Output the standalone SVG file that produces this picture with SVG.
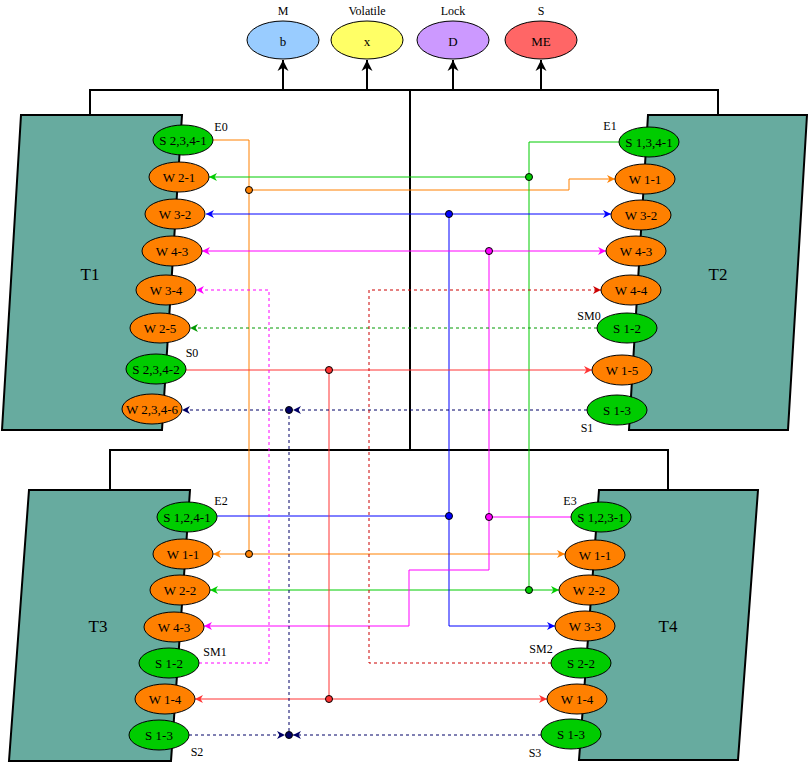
<svg xmlns="http://www.w3.org/2000/svg" width="808" height="764" viewBox="0 0 808 764">
<style>
text{font-family:"Liberation Serif","Times New Roman",serif;fill:#000;}
.nl{font-size:13px;text-anchor:middle;dominant-baseline:central;}
.tl{font-size:17px;text-anchor:middle;dominant-baseline:central;}
.lb{font-size:12px;text-anchor:middle;dominant-baseline:central;}
.t{fill:#67AB9F;stroke:#000;stroke-width:2;}
.s{fill:#00CC00;stroke:#000;stroke-width:1;}
.w{fill:#FF8000;stroke:#000;stroke-width:1;}
.br{fill:none;stroke:#000;stroke-width:2;}
.c{fill:none;stroke-width:1;}
.d{stroke-dasharray:3 3;}
.dot{stroke:#000;stroke-width:1;}
</style>
<defs>
<marker id="ak" viewBox="0 0 10 10" refX="10" refY="5" markerWidth="11" markerHeight="12" markerUnits="userSpaceOnUse" orient="auto"><path d="M0,0 L10,5 L0,10 L3,5 z" fill="#000"/></marker>
<marker id="aor" viewBox="0 0 10 10" refX="10" refY="5" markerWidth="8" markerHeight="8" markerUnits="userSpaceOnUse" orient="auto"><path d="M0,0 L10,5 L0,10 L3,5 z" fill="#FF8000"/></marker>
<marker id="agr" viewBox="0 0 10 10" refX="10" refY="5" markerWidth="8" markerHeight="8" markerUnits="userSpaceOnUse" orient="auto"><path d="M0,0 L10,5 L0,10 L3,5 z" fill="#00CC00"/></marker>
<marker id="abl" viewBox="0 0 10 10" refX="10" refY="5" markerWidth="8" markerHeight="8" markerUnits="userSpaceOnUse" orient="auto"><path d="M0,0 L10,5 L0,10 L3,5 z" fill="#0000FF"/></marker>
<marker id="amg" viewBox="0 0 10 10" refX="10" refY="5" markerWidth="8" markerHeight="8" markerUnits="userSpaceOnUse" orient="auto"><path d="M0,0 L10,5 L0,10 L3,5 z" fill="#FF00FF"/></marker>
<marker id="ard" viewBox="0 0 10 10" refX="10" refY="5" markerWidth="8" markerHeight="8" markerUnits="userSpaceOnUse" orient="auto"><path d="M0,0 L10,5 L0,10 L3,5 z" fill="#FF3333"/></marker>
<marker id="anv" viewBox="0 0 10 10" refX="10" refY="5" markerWidth="8" markerHeight="8" markerUnits="userSpaceOnUse" orient="auto"><path d="M0,0 L10,5 L0,10 L3,5 z" fill="#000066"/></marker>
<marker id="adg" viewBox="0 0 10 10" refX="10" refY="5" markerWidth="8" markerHeight="8" markerUnits="userSpaceOnUse" orient="auto"><path d="M0,0 L10,5 L0,10 L3,5 z" fill="#009900"/></marker>
<marker id="adr" viewBox="0 0 10 10" refX="10" refY="5" markerWidth="8" markerHeight="8" markerUnits="userSpaceOnUse" orient="auto"><path d="M0,0 L10,5 L0,10 L3,5 z" fill="#CC0000"/></marker>
</defs>

<g id="bracket">
<path class="br" d="M90,115 V90 H718 V115"/>
<path class="br" d="M410,90 V450"/>
<path class="br" d="M110,490 V450 H668 V490"/>
</g>

<g id="legend-M"><text class="lb" x="283" y="11">M</text><ellipse cx="283" cy="40" rx="36" ry="19" fill="#99CCFF" stroke="#000"/><text class="nl" x="283" y="41">b</text></g>
<g id="legend-Volatile"><text class="lb" x="367" y="11">Volatile</text><ellipse cx="367" cy="40" rx="36" ry="19" fill="#FFFF66" stroke="#000"/><text class="nl" x="367" y="41">x</text></g>
<g id="legend-Lock"><text class="lb" x="453" y="11">Lock</text><ellipse cx="453" cy="40" rx="36" ry="19" fill="#CC99FF" stroke="#000"/><text class="nl" x="453" y="41">D</text></g>
<g id="legend-S"><text class="lb" x="541" y="11">S</text><ellipse cx="541" cy="40" rx="36" ry="19" fill="#FF6666" stroke="#000"/><text class="nl" x="541" y="41">ME</text></g>

<g id="T1"><polygon class="t" points="21,115 182,115 162,430 2,430"/><text class="tl" x="90" y="274">T1</text></g>
<g id="T2"><polygon class="t" points="648,115 807,115 788,430 629,430"/><text class="tl" x="718" y="274">T2</text></g>
<g id="T3"><polygon class="t" points="29,490 190,490 171,761 9,761"/><text class="tl" x="98" y="626">T3</text></g>
<g id="T4"><polygon class="t" points="599,490 758,490 738,760 579,760"/><text class="tl" x="668" y="626">T4</text></g>

<g id="connectors">
<path d="M283,90 V60" stroke="#000" stroke-width="2" marker-end="url(#ak)"/>
<path d="M367,90 V60" stroke="#000" stroke-width="2" marker-end="url(#ak)"/>
<path d="M453,90 V60" stroke="#000" stroke-width="2" marker-end="url(#ak)"/>
<path d="M541,90 V60" stroke="#000" stroke-width="2" marker-end="url(#ak)"/>

<g stroke="#FF8000" class="c">
<path d="M213,140 H249 V554"/>
<path d="M249,190 H569 V179 H615" marker-end="url(#aor)"/>
<path d="M249,554 H213" marker-end="url(#aor)"/>
<path d="M249,554 H565" marker-end="url(#aor)"/>
</g>
<g stroke="#00CC00" class="c">
<path d="M619,142 H529 V590"/>
<path d="M529,177 H209" marker-end="url(#agr)"/>
<path d="M529,590 H210" marker-end="url(#agr)"/>
<path d="M529,590 H559" marker-end="url(#agr)"/>
</g>
<g stroke="#0000FF" class="c">
<path d="M217,516 H449"/>
<path d="M449,214 V626 H555" marker-end="url(#abl)"/>
<path d="M449,214 H206" marker-end="url(#abl)"/>
<path d="M449,214 H611" marker-end="url(#abl)"/>
</g>
<g stroke="#FF00FF" class="c">
<path d="M571,517 H489"/>
<path d="M489,251 V570 H409 V626 H204" marker-end="url(#amg)"/>
<path d="M489,251 H202" marker-end="url(#amg)"/>
<path d="M489,251 H606" marker-end="url(#amg)"/>
</g>
<g stroke="#FF3333" class="c">
<path d="M186,370 H329 V699"/>
<path d="M329,370 H592" marker-end="url(#ard)"/>
<path d="M329,699 H195" marker-end="url(#ard)"/>
<path d="M329,699 H547" marker-end="url(#ard)"/>
</g>
<g stroke="#000066" class="c d">
<path d="M587,410 H293" marker-end="url(#anv)"/>
<path d="M289,410 H182" marker-end="url(#anv)"/>
<path d="M289,410 V735"/>
<path d="M189,735 H285" marker-end="url(#anv)"/>
<path d="M541,735 H293" marker-end="url(#anv)"/>
</g>
<path class="c d" stroke="#FF00FF" d="M199,663 H269 V290 H196" marker-end="url(#amg)"/>
<path class="c d" stroke="#009900" d="M597,328 H190" marker-end="url(#adg)"/>
<path class="c d" stroke="#CC0000" d="M551,663 H369 V290 H601" marker-end="url(#adr)"/>

<circle class="dot" cx="249" cy="190" r="3.5" fill="#FF8000"/>
<circle class="dot" cx="249" cy="554" r="3.5" fill="#FF8000"/>
<circle class="dot" cx="529" cy="177" r="3.5" fill="#00CC00"/>
<circle class="dot" cx="529" cy="590" r="3.5" fill="#00CC00"/>
<circle class="dot" cx="449" cy="214" r="3.5" fill="#0000FF"/>
<circle class="dot" cx="449" cy="516" r="3.5" fill="#0000FF"/>
<circle class="dot" cx="489" cy="251" r="3.5" fill="#FF00FF"/>
<circle class="dot" cx="489" cy="517" r="3.5" fill="#FF00FF"/>
<circle class="dot" cx="329" cy="370" r="3.5" fill="#FF3333"/>
<circle class="dot" cx="329" cy="699" r="3.5" fill="#FF3333"/>
<circle class="dot" cx="289" cy="410" r="3.5" fill="#000066"/>
<circle class="dot" cx="289" cy="735" r="3.5" fill="#000066"/>
</g>

<g id="T1-S2341"><ellipse class="s" cx="183" cy="140" rx="30" ry="15"/><text class="nl" x="183" y="140">S 2,3,4-1</text></g>
<g id="T1-W21"><ellipse class="w" cx="179" cy="177" rx="30" ry="15"/><text class="nl" x="179" y="177">W 2-1</text></g>
<g id="T1-W32"><ellipse class="w" cx="175" cy="214" rx="30" ry="15"/><text class="nl" x="175" y="214">W 3-2</text></g>
<g id="T1-W43"><ellipse class="w" cx="172" cy="251" rx="30" ry="15"/><text class="nl" x="172" y="251">W 4-3</text></g>
<g id="T1-W34"><ellipse class="w" cx="166" cy="290" rx="30" ry="15"/><text class="nl" x="166" y="290">W 3-4</text></g>
<g id="T1-W25"><ellipse class="w" cx="160" cy="328" rx="30" ry="15"/><text class="nl" x="160" y="328">W 2-5</text></g>
<g id="T1-S2342"><ellipse class="s" cx="156" cy="369" rx="30" ry="15"/><text class="nl" x="156" y="369">S 2,3,4-2</text></g>
<g id="T1-W2346"><ellipse class="w" cx="152" cy="409" rx="30" ry="15"/><text class="nl" x="152" y="409">W 2,3,4-6</text></g>

<g id="T2-S1341"><ellipse class="s" cx="649" cy="142" rx="30" ry="15"/><text class="nl" x="649" y="142">S 1,3,4-1</text></g>
<g id="T2-W11"><ellipse class="w" cx="645" cy="179" rx="30" ry="15"/><text class="nl" x="645" y="179">W 1-1</text></g>
<g id="T2-W32"><ellipse class="w" cx="641" cy="215" rx="30" ry="15"/><text class="nl" x="641" y="215">W 3-2</text></g>
<g id="T2-W43"><ellipse class="w" cx="636" cy="251" rx="30" ry="15"/><text class="nl" x="636" y="251">W 4-3</text></g>
<g id="T2-W44"><ellipse class="w" cx="631" cy="290" rx="30" ry="15"/><text class="nl" x="631" y="290">W 4-4</text></g>
<g id="T2-S12"><ellipse class="s" cx="627" cy="328" rx="30" ry="15"/><text class="nl" x="627" y="328">S 1-2</text></g>
<g id="T2-W15"><ellipse class="w" cx="622" cy="370" rx="30" ry="15"/><text class="nl" x="622" y="370">W 1-5</text></g>
<g id="T2-S13"><ellipse class="s" cx="617" cy="410" rx="30" ry="15"/><text class="nl" x="617" y="410">S 1-3</text></g>

<g id="T3-S1241"><ellipse class="s" cx="187" cy="517" rx="30" ry="15"/><text class="nl" x="187" y="517">S 1,2,4-1</text></g>
<g id="T3-W11"><ellipse class="w" cx="183" cy="554" rx="30" ry="15"/><text class="nl" x="183" y="554">W 1-1</text></g>
<g id="T3-W22"><ellipse class="w" cx="180" cy="590" rx="30" ry="15"/><text class="nl" x="180" y="590">W 2-2</text></g>
<g id="T3-W43"><ellipse class="w" cx="174" cy="627" rx="30" ry="15"/><text class="nl" x="174" y="627">W 4-3</text></g>
<g id="T3-S12"><ellipse class="s" cx="169" cy="663" rx="30" ry="15"/><text class="nl" x="169" y="663">S 1-2</text></g>
<g id="T3-W14"><ellipse class="w" cx="165" cy="699" rx="30" ry="15"/><text class="nl" x="165" y="699">W 1-4</text></g>
<g id="T3-S13"><ellipse class="s" cx="159" cy="735" rx="30" ry="15"/><text class="nl" x="159" y="735">S 1-3</text></g>

<g id="T4-S1231"><ellipse class="s" cx="601" cy="517" rx="30" ry="15"/><text class="nl" x="601" y="517">S 1,2,3-1</text></g>
<g id="T4-W11"><ellipse class="w" cx="595" cy="555" rx="30" ry="15"/><text class="nl" x="595" y="555">W 1-1</text></g>
<g id="T4-W22"><ellipse class="w" cx="589" cy="590" rx="30" ry="15"/><text class="nl" x="589" y="590">W 2-2</text></g>
<g id="T4-W33"><ellipse class="w" cx="585" cy="626" rx="30" ry="15"/><text class="nl" x="585" y="626">W 3-3</text></g>
<g id="T4-S22"><ellipse class="s" cx="581" cy="663" rx="30" ry="15"/><text class="nl" x="581" y="663">S 2-2</text></g>
<g id="T4-W14"><ellipse class="w" cx="577" cy="699" rx="30" ry="15"/><text class="nl" x="577" y="699">W 1-4</text></g>
<g id="T4-S13"><ellipse class="s" cx="571" cy="734" rx="30" ry="15"/><text class="nl" x="571" y="734">S 1-3</text></g>

<g id="labels">
<text class="lb" x="221" y="127">E0</text>
<text class="lb" x="192" y="353">S0</text>
<text class="lb" x="610" y="126">E1</text>
<text class="lb" x="589" y="316">SM0</text>
<text class="lb" x="587" y="428">S1</text>
<text class="lb" x="221" y="501">E2</text>
<text class="lb" x="215" y="652">SM1</text>
<text class="lb" x="197" y="752">S2</text>
<text class="lb" x="570" y="501">E3</text>
<text class="lb" x="541" y="649">SM2</text>
<text class="lb" x="535" y="753">S3</text>
</g>
</svg>
